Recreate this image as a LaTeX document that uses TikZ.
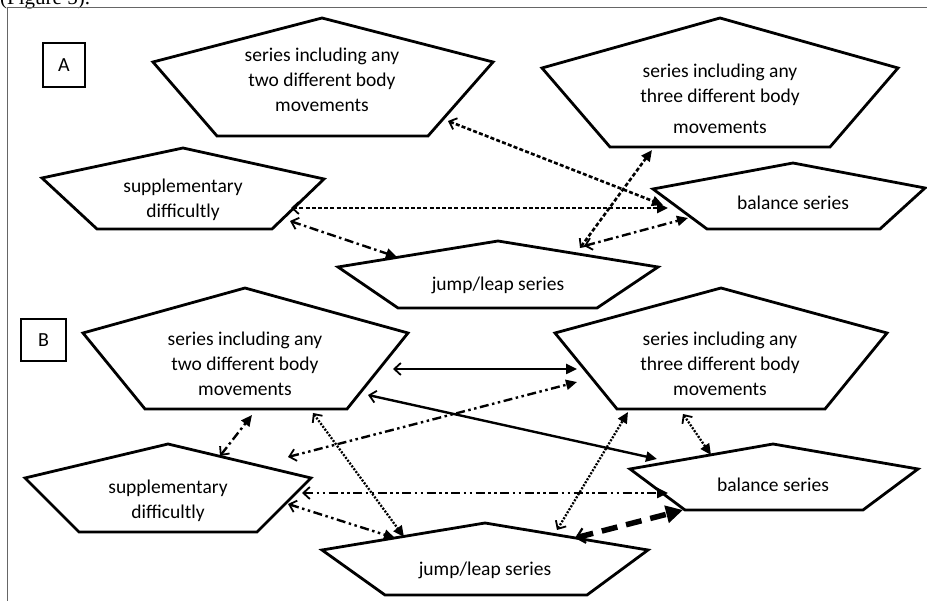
\documentclass[tikz,border=0pt]{standalone}
\usepackage{fontspec}
\setmainfont{Carlito}
\newfontfamily\figserif{Liberation Serif}
\usetikzlibrary{arrows.meta}
\begin{document}
\begin{tikzpicture}[x=1pt,y=-1pt,
 pent/.style={draw=black,line width=2.8pt,line join=miter},
 lbl/.style={align=center,font=\fontsize{19.5}{25}\selectfont,inner sep=0pt},
 conn/.style={line width=2.4pt,{Straight Barb[length=6.5pt,width=12pt,line width=1.8pt]}-{Triangle[length=11pt,width=10pt]}},
 densedash/.style={conn,line width=2.6pt,dash pattern=on 4pt off 2.2pt},
 finedot/.style={conn,line width=2.3pt,dash pattern=on 2pt off 1.5pt},
 dashdot/.style={conn,dash pattern=on 9pt off 3.5pt on 2.5pt off 3.5pt},
 dashdotdot/.style={conn,dash pattern=on 9pt off 3.5pt on 2.5pt off 3.5pt on 2.5pt off 3.5pt},
 solidarrow/.style={conn},
 thickdash/.style={line width=5.5pt,dash pattern=on 16pt off 9pt,{Straight Barb[length=8pt,width=15pt,line width=2.2pt]}-{Triangle[length=17pt,width=17pt]}},
 panel/.style={draw,line width=1.4pt,inner sep=0pt,font=\fontsize{20}{24}\selectfont},
 frameline/.style={draw=black!60,line width=1pt}
]
\useasboundingbox (0,0) rectangle (927,601);
\clip (0,0) rectangle (927,601);
% caption fragment and frame
\node[anchor=base west,inner sep=0pt,font=\figserif\fontsize{21}{24}\selectfont] (cap) at (0,5) {(Figure 5).};
\coordinate (ftl) at (7,8);
\coordinate (ftr) at (927,8);
\coordinate (fbl) at (7,601);
\draw[frameline] (ftr) -- (ftl) -- (fbl);

% ---------- Panel A ----------
\node[panel,minimum width=42pt,minimum height=44pt] (labA) at (64,65) {A};
\draw[pent] (322,18) -- (493,62) -- (428,136) -- (217,136) -- (153,62) -- cycle;
\draw[pent] (720,18) -- (898,68) -- (830,147) -- (610,147) -- (542,68) -- cycle;
\draw[pent] (183,148) -- (324,179) -- (272,229) -- (97,229) -- (42,178) -- cycle;
\draw[pent] (793,163) -- (925,188) -- (880,229) -- (707,229) -- (653,189) -- cycle;
\draw[pent] (498,241) -- (658,267) -- (597,308) -- (398,308) -- (338,267) -- cycle;
\node[lbl] (twoA) at (322,79.5) {series including any\\two different body\\movements};
\node[lbl] (threeA) at (720,98.5) {series including any\\three different body\\[6pt]movements};
\node[lbl] (suppA) at (183,200) {supplementary\\difficultly};
\node[lbl] (balA) at (793,203) {balance series};
\node[lbl] (jumpA) at (498,285) {jump/leap series};

\coordinate (a1s) at (448,121);
\coordinate (a1e) at (663,205);
\coordinate (a2s) at (291,208);
\coordinate (a2e) at (668,208);
\coordinate (a3s) at (580,248);
\coordinate (a3e) at (652,150);
\coordinate (a4s) at (584,246);
\coordinate (a4e) at (688,218);
\coordinate (a5s) at (290,221);
\coordinate (a5e) at (397,257);
\draw[densedash] (a1s) -- (a1e);
\draw[densedash] (a2s) -- (a2e);
\draw[densedash] (a3s) -- (a3e);
\draw[dashdot] (a4s) -- (a4e);
\draw[dashdot] (a5s) -- (a5e);

% ---------- Panel B ----------
\node[panel,minimum width=45pt,minimum height=42pt] (labB) at (43.5,340) {B};
\draw[pent] (245,288) -- (408,333) -- (347,409) -- (145,409) -- (83,333) -- cycle;
\draw[pent] (721,288) -- (887,333) -- (825,409) -- (617,409) -- (555,333) -- cycle;
\draw[pent] (168,444) -- (311,478) -- (257,532) -- (79,532) -- (25,478) -- cycle;
\draw[pent] (773,444) -- (918,469) -- (863,510) -- (685,510) -- (630,469) -- cycle;
\draw[pent] (485,523) -- (648,550) -- (587,595) -- (385,595) -- (322,550) -- cycle;
\node[lbl] (twoB) at (245,364) {series including any\\two different body\\movements};
\node[lbl] (threeB) at (720,364) {series including any\\three different body\\movements};
\node[lbl] (suppB) at (168,501) {supplementary\\difficultly};
\node[lbl] (balB) at (773,485) {balance series};
\node[lbl] (jumpB) at (485,570) {jump/leap series};

\coordinate (b1s) at (393,369);
\coordinate (b1e) at (577,369);
\coordinate (b2s) at (368,395);
\coordinate (b2e) at (657,459);
\coordinate (b3s) at (288,457);
\coordinate (b3e) at (577,382);
\coordinate (b4s) at (313,413);
\coordinate (b4e) at (404,537);
\coordinate (b5s) at (220,456);
\coordinate (b5e) at (252,415);
\coordinate (b6s) at (302,493);
\coordinate (b6e) at (668,493);
\coordinate (b7s) at (288,504);
\coordinate (b7e) at (395,538);
\coordinate (b8s) at (557,530);
\coordinate (b8e) at (628,412);
\coordinate (b9s) at (575,538);
\coordinate (b9e) at (683,510);
\coordinate (b10s) at (683,414);
\coordinate (b10e) at (711,455);
\draw[solidarrow] (b1s) -- (b1e);
\draw[solidarrow] (b2s) -- (b2e);
\draw[dashdotdot] (b3s) -- (b3e);
\draw[finedot] (b4s) -- (b4e);
\draw[dashdot] (b5s) -- (b5e);
\draw[dashdotdot] (b6s) -- (b6e);
\draw[dashdotdot] (b7s) -- (b7e);
\draw[finedot] (b8s) -- (b8e);
\draw[thickdash] (b9s) -- (b9e);
\draw[finedot] (b10s) -- (b10e);
\end{tikzpicture}
\end{document}
